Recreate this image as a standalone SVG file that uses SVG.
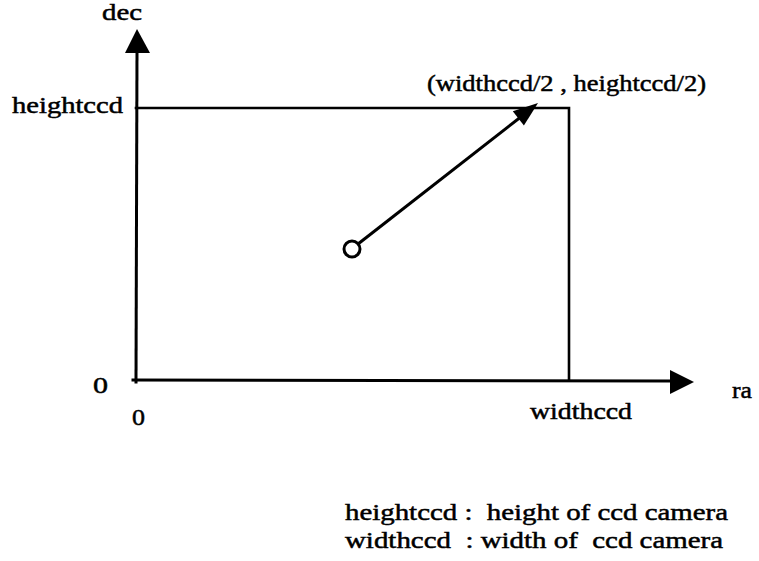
<svg xmlns="http://www.w3.org/2000/svg" width="759" height="561" viewBox="0 0 759 561">
<style>
.t{font-family:"Liberation Serif","Times New Roman",serif;font-size:24px;fill:#000;stroke:#000;stroke-width:0.5}
.ln{stroke:#000;stroke-width:3;fill:none;stroke-linecap:square}
.hd{fill:#000;stroke:none}
</style>
<rect width="759" height="561" fill="#fff"/>
<g id="connectors">
<line class="ln" x1="136" y1="382" x2="137" y2="50"/>
<polygon class="hd" points="137,29 125,53 150,53"/>
<line class="ln" x1="133" y1="380" x2="672" y2="381"/>
<polygon class="hd" points="694,382 670,370 670,394"/>
<polyline class="ln" points="136,108 569,108 569,380" style="stroke-width:2.6"/>
<line class="ln" x1="358" y1="244" x2="522" y2="116" style="stroke-linecap:butt"/>
<polygon class="hd" points="538,103 523.9,125.5 512.8,111.3"/>
</g>
<g id="origin-point">
<circle cx="352" cy="249" r="8" fill="#fff" stroke="#000" stroke-width="3"/>
</g>
<g id="labels">
<text class="t" x="102" y="20" textLength="40" lengthAdjust="spacingAndGlyphs">dec</text>
<text class="t" x="12" y="113" textLength="111" lengthAdjust="spacingAndGlyphs">heightccd</text>
<text class="t" x="427" y="91" textLength="279" lengthAdjust="spacingAndGlyphs">(widthccd/2 , heightccd/2)</text>
<text class="t" x="93" y="393" textLength="15" lengthAdjust="spacingAndGlyphs">0</text>
<text class="t" x="132" y="425" textLength="13" lengthAdjust="spacingAndGlyphs">0</text>
<text class="t" x="732" y="398" textLength="20" lengthAdjust="spacingAndGlyphs">ra</text>
<text class="t" x="530" y="419" textLength="102" lengthAdjust="spacingAndGlyphs">widthccd</text>
<text class="t" x="345" y="520" textLength="383" lengthAdjust="spacingAndGlyphs" xml:space="preserve">heightccd :  height of ccd camera</text>
<text class="t" x="345" y="548" textLength="378" lengthAdjust="spacingAndGlyphs" xml:space="preserve">widthccd  : width of  ccd camera</text>
</g>
</svg>
